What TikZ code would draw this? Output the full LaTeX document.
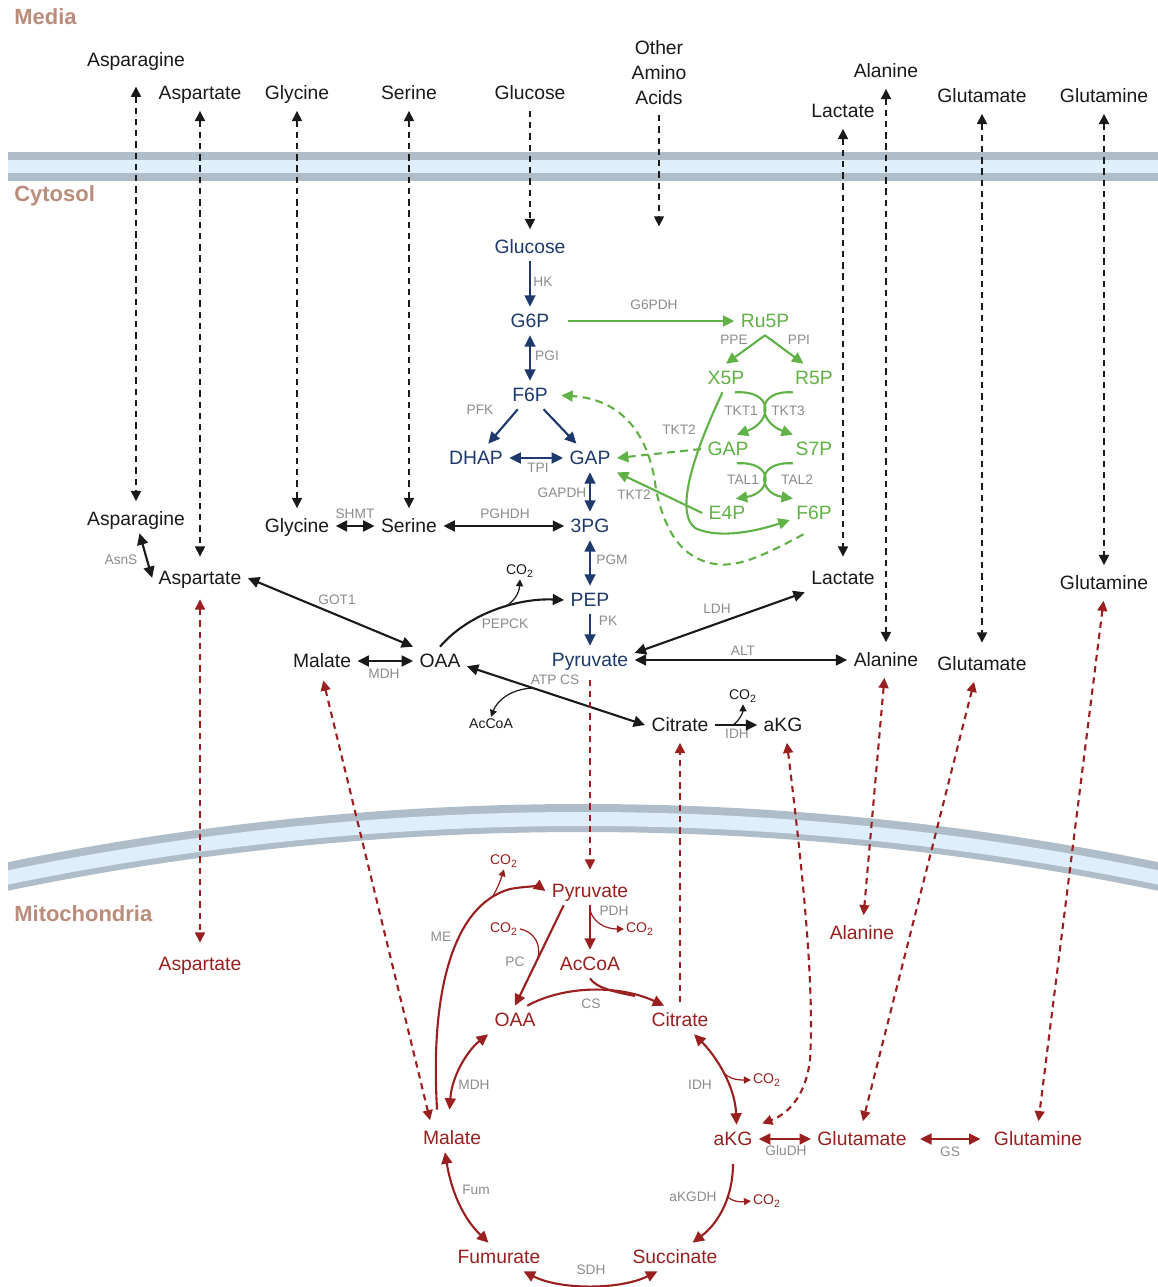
\documentclass[tikz,border=0pt]{standalone}
\usepackage{fontspec}
\setmainfont{Liberation Sans}
\usetikzlibrary{arrows.meta,positioning}

\definecolor{glyblue}{RGB}{30,58,108}
\definecolor{pppgreen}{RGB}{96,178,70}
\definecolor{mitored}{RGB}{154,31,31}
\definecolor{enzgray}{RGB}{140,140,140}
\definecolor{metblack}{RGB}{26,26,26}
\definecolor{compbrown}{RGB}{186,140,123}
\definecolor{memgray}{RGB}{175,189,201}
\definecolor{memblue}{RGB}{222,238,252}

\begin{document}
\begin{tikzpicture}[
    x=0.02cm, y=-0.02cm,
    >={Triangle[length=6.5pt,width=6.2pt]},
    met/.style={inner sep=3.5pt, text height=7.9pt, text depth=1pt, font=\fontsize{11}{13}\selectfont},
    cyto/.style={met, text=metblack},
    glyc/.style={met, text=glyblue},
    ppp/.style={met, text=pppgreen},
    mito/.style={met, text=mitored},
    enz/.style={inner sep=0pt, font=\fontsize{7.8}{9}\selectfont, text=enzgray},
    co2/.style={inner sep=1pt, font=\fontsize{8}{9}\selectfont},
    comp/.style={anchor=west, inner sep=0pt, text height=9pt, text depth=0pt, font=\fontsize{12.5}{15}\selectfont\bfseries, text=compbrown},
    line/.style={draw, ->, line width=1.2pt},
    rev/.style={line, <->},
    branch/.style={draw, ->, line width=0.7pt, >={Triangle[length=4pt,width=4pt]}},
    trans/.style={draw, line width=1.2pt, dash pattern=on 3.6pt off 2.8pt, shorten <=2pt, shorten >=2pt, >={Triangle[length=5.8pt,width=5.6pt]}},
    pppdash/.style={line, pppgreen, dash pattern=on 4.5pt off 3pt}
]
    % Background and membranes
    \fill[white] (0,0) rectangle (1158,1287);
    \useasboundingbox (0,0) rectangle (1158,1287);
    \fill[memgray] (8,152) rectangle (1158,181);
    \fill[memblue] (8,160) rectangle (1158,173);
    \begin{scope}
        \clip (8,760) rectangle (1158,960);
        \draw[memgray, line width=0.56cm] (583,3649) circle [radius=2831];
        \draw[memblue, line width=0.28cm] (583,3649) circle [radius=2830];
    \end{scope}

    % Compartments
    \node[comp] (media) at (14,17) {Media};
    \node[comp] (cytosol) at (14,194) {Cytosol};
    \node[comp] (mitoch) at (14,914) {Mitochondria};

    % Media
    \node[cyto] (m-asn) at (136,60) {Asparagine};
    \node[cyto] (m-asp) at (200,93) {Aspartate};
    \node[cyto] (m-gly) at (297,93) {Glycine};
    \node[cyto] (m-ser) at (409,93) {Serine};
    \node[cyto] (m-glc) at (530,93) {Glucose};
    \node[inner sep=3.5pt, align=center, font=\fontsize{11}{14.2}\selectfont, text=metblack] (m-other) at (659,73) {Other\\Amino\\Acids};
    \node[cyto] (m-ala) at (886,71) {Alanine};
    \node[cyto] (m-lac) at (843,111) {Lactate};
    \node[cyto] (m-glu) at (982,96) {Glutamate};
    \node[cyto] (m-gln) at (1104,96) {Glutamine};
    \coordinate (other-end) at (659,230);

    % Cytosol
    \node[cyto] (c-asn) at (136,519) {Asparagine};
    \node[cyto] (c-asp) at (200,578) {Aspartate};
    \node[cyto] (c-gly) at (297,526) {Glycine};
    \node[cyto] (c-ser) at (409,526) {Serine};
    \node[cyto] (mal-c) at (322,661) {Malate};
    \node[cyto] (oaa-c) at (440,661) {OAA};
    \node[cyto] (cit-c) at (680,725) {Citrate};
    \node[cyto] (akg-c) at (783,725) {aKG};
    \node[cyto] (c-lac) at (843,578) {Lactate};
    \node[cyto] (ala-c) at (886,660) {Alanine};
    \node[cyto] (glu-c) at (982,664) {Glutamate};
    \node[cyto] (gln-c) at (1104,583) {Glutamine};
    \node[co2, text=metblack] (accoa-c) at (491,724) {AcCoA};
    \node[co2, text=metblack] (co2-pepck) at (520,571) {CO\textsubscript{2}};
    \node[co2, text=metblack] (co2-idh) at (743,696) {CO\textsubscript{2}};

    % Glycolysis
    \node[glyc] (glc) at (530,247) {Glucose};
    \node[glyc] (g6p) at (530,321) {G6P};
    \node[glyc] (f6p) at (530,395) {F6P};
    \node[glyc] (dhap) at (476,458) {DHAP};
    \node[glyc] (gap) at (590,458) {GAP};
    \node[glyc] (pg3) at (590,526) {3PG};
    \node[glyc] (pep) at (590,600) {PEP};
    \node[glyc] (pyr-c) at (590,660) {Pyruvate};

    % Pentose phosphate
    \node[ppp] (ru5p) at (765,321) {Ru5P};
    \node[ppp] (x5p) at (726,378) {X5P};
    \node[ppp] (r5p) at (814,378) {R5P};
    \node[ppp] (gapg) at (728,449) {GAP};
    \node[ppp] (s7p) at (814,449) {S7P};
    \node[ppp] (e4p) at (727,513) {E4P};
    \node[ppp] (f6pg) at (814,513) {F6P};

    % Mitochondria
    \node[mito] (aspm) at (200,964) {Aspartate};
    \node[mito] (pyrm) at (590,891) {Pyruvate};
    \node[mito] (accoam) at (590,964) {AcCoA};
    \node[mito] (oaam) at (515,1020) {OAA};
    \node[mito] (citm) at (680,1020) {Citrate};
    \node[mito] (alam) at (862,933) {Alanine};
    \node[mito] (malm) at (452,1138) {Malate};
    \node[mito] (akgm) at (733,1139) {aKG};
    \node[mito] (glum) at (862,1139) {Glutamate};
    \node[mito] (glnm) at (1038,1139) {Glutamine};
    \node[mito] (fum) at (499,1257) {Fumurate};
    \node[mito] (succ) at (675,1257) {Succinate};
    \node[co2, text=mitored] (co2-me) at (504,861) {CO\textsubscript{2}};
    \node[co2, text=mitored] (co2-pc) at (504,929) {CO\textsubscript{2}};
    \node[co2, text=mitored] (co2-pdh) at (640,929) {CO\textsubscript{2}};
    \node[co2, text=mitored] (co2-idhm) at (767,1080) {CO\textsubscript{2}};
    \node[co2, text=mitored] (co2-kgdh) at (767,1201) {CO\textsubscript{2}};

    % Enzymes
    \node[enz] at (543,282) {HK};
    \node[enz] at (547,356) {PGI};
    \node[enz] at (480,410) {PFK};
    \node[enz] at (538,468) {TPI};
    \node[enz] at (562,493) {GAPDH};
    \node[enz] at (505,514) {PGHDH};
    \node[enz] at (355,514) {SHMT};
    \node[enz] at (612,560) {PGM};
    \node[enz] at (608,621) {PK};
    \node[enz] at (505,624) {PEPCK};
    \node[enz] at (337,600) {GOT1};
    \node[enz] at (121,560) {AsnS};
    \node[enz] at (384,674) {MDH};
    \node[enz] at (555,680) {ATP CS};
    \node[enz] at (717,609) {LDH};
    \node[enz] at (743,651) {ALT};
    \node[enz] at (737,734) {IDH};
    \node[enz] at (654,305) {G6PDH};
    \node[enz] at (734,340) {PPE};
    \node[enz] at (799,340) {PPI};
    \node[enz] at (741,411) {TKT1};
    \node[enz] at (788,411) {TKT3};
    \node[enz] at (679,430) {TKT2};
    \node[enz] at (743,480) {TAL1};
    \node[enz] at (797,480) {TAL2};
    \node[enz] at (634,495) {TKT2};
    \node[enz] at (441,937) {ME};
    \node[enz] at (614,911) {PDH};
    \node[enz] at (515,962) {PC};
    \node[enz] at (591,1004) {CS};
    \node[enz] at (474,1085) {MDH};
    \node[enz] at (700,1085) {IDH};
    \node[enz] at (786,1151) {GluDH};
    \node[enz] at (950,1152) {GS};
    \node[enz] at (476,1190) {Fum};
    \node[enz] at (693,1197) {aKGDH};
    \node[enz] at (591,1270) {SDH};

    % Transport media <-> cytosol
    \path[trans, <->, metblack, shorten <=7pt] (m-asn) -- (c-asn);
    \path[trans, <->, metblack, shorten >=4pt] (m-asp) -- (c-asp);
    \path[trans, <->, metblack] (m-gly) -- (c-gly);
    \path[trans, <->, metblack] (m-ser) -- (c-ser);
    \path[trans, ->, metblack] (m-glc) -- (glc);
    \path[trans, ->, metblack] (m-other) -- (other-end);
    \path[trans, <->, metblack, shorten >=4pt] (m-lac) -- (c-lac);
    \path[trans, <->, metblack] (m-ala) -- (ala-c);
    \path[trans, <->, metblack, shorten >=4pt] (m-glu) -- (glu-c);
    \path[trans, <->, metblack] (m-gln) -- (gln-c);

    % Glycolysis
    \path[line, glyblue] (glc) -- (g6p);
    \path[rev, glyblue] (g6p) -- (f6p);
    \path[line, glyblue] (f6p) -- (dhap);
    \path[line, glyblue] (f6p) -- (gap);
    \path[rev, glyblue] (dhap) -- (gap);
    \path[rev, glyblue] (gap) -- (pg3);
    \path[rev, glyblue] (pg3) -- (pep);
    \path[line, glyblue] (pep) -- (pyr-c);

    % Cytosol reactions
    \path[rev, metblack] (c-gly) -- (c-ser);
    \path[rev, metblack] (c-ser) -- (pg3);
    \path[rev, metblack] ([xshift=2pt]c-asn.south) -- (c-asp.west);
    \path[rev, metblack] (c-asp.east) -- (oaa-c.north west);
    \path[rev, metblack] (mal-c) -- (oaa-c);
    \path[line, metblack] (oaa-c.north) .. controls (470,612) and (520,598) .. (pep.west);
    \coordinate (pepck-br) at (505,607);
    \path[branch, metblack] (pepck-br) .. controls (514,601) and (519,594) .. (co2-pepck.south);
    \path[rev, metblack] ([yshift=-3pt]oaa-c.east) -- (cit-c.west);
    \coordinate (atpcs-br) at (533,688);
    \path[branch, metblack] (atpcs-br) .. controls (510,689) and (497,701) .. (accoa-c.north);
    \path[line, metblack] (cit-c) -- (akg-c);
    \coordinate (idh-br) at (733,725);
    \path[branch, metblack] (idh-br) .. controls (740,720) and (743,712) .. (co2-idh.south);
    \path[rev, metblack] ([yshift=4pt]pyr-c.east) -- (c-lac.south west);
    \path[rev, metblack] (pyr-c) -- (ala-c);

    % Pentose phosphate pathway
    \path[line, pppgreen, shorten <=7pt] (g6p) -- (ru5p);
    \path[line, pppgreen] (ru5p.south) -- (x5p.north);
    \path[line, pppgreen] (ru5p.south) -- ([xshift=-6pt]r5p.north);
    \path[line, pppgreen] ([xshift=5pt]x5p.south) .. controls (775,390) and (772,422) .. ([xshift=5pt]gapg.north);
    \path[line, pppgreen] ([xshift=-12pt]r5p.south) .. controls (755,390) and (758,422) .. ([xshift=-12pt]s7p.north);
    \path[line, pppgreen] ([xshift=5pt]gapg.south) .. controls (775,461) and (772,493) .. ([xshift=5pt]e4p.north);
    \path[line, pppgreen] ([xshift=-12pt]s7p.south) .. controls (755,461) and (758,493) .. ([xshift=-12pt]f6pg.north);
    \path[line, pppgreen] ([xshift=-2pt]x5p.south) .. controls (700,440) and (672,510) .. (695,528) .. controls (720,540) and (760,530) .. ([yshift=-4pt]f6pg.west);
    \path[pppdash] (gapg.west) -- (gap.east);
    \path[line, pppgreen] (e4p.west) -- (gap.south east);
    \path[pppdash, shorten >=4pt] ([xshift=-6pt,yshift=-4pt]f6pg.south) .. controls (770,552) and (740,568) .. (715,564) .. controls (680,558) and (665,530) .. (656,490) .. controls (650,435) and (622,399) .. (f6p.east);

    % Transport cytosol <-> mitochondria
    \path[trans, <->, mitored, shorten <=4pt, shorten >=4pt] (c-asp) -- (aspm);
    \path[trans, <->, mitored, shorten <=3pt] (mal-c.south) -- ([xshift=-12pt]malm.north);
    \path[trans, ->, mitored, shorten <=3pt, shorten >=4pt] (pyr-c) -- (pyrm);
    \path[trans, ->, mitored] (citm) -- (cit-c);
    \path[trans, <->, mitored] ([xshift=2pt]akg-c.south) .. controls (800,850) and (815,980) .. (810,1060) .. controls (805,1100) and (785,1115) .. (akgm.north east);
    \path[trans, <->, mitored] (ala-c) -- (alam);
    \path[trans, <->, mitored] ([xshift=-4pt]glu-c.south) -- (glum.north);
    \path[trans, <->, mitored] (gln-c.south) -- (glnm.north);

    % TCA cycle
    \path[line, mitored, shorten <=8pt] ([xshift=-8pt]malm.north) .. controls (430,995) and (452,905) .. (510,889) .. controls (525,886) and (540,887) .. (pyrm.west);
    \coordinate (me-br) at (493,896);
    \path[branch, mitored] (me-br) .. controls (497,889) and (500,882) .. (co2-me.south);
    \path[line, mitored] (pyrm) -- (accoam);
    \coordinate (pdh-br) at (590,910);
    \path[branch, mitored] (pdh-br) .. controls (593,922) and (605,929) .. (co2-pdh.west);
    \path[line, mitored] ([xshift=-15pt]pyrm.south) -- (oaam.north);
    \coordinate (pc-br) at (538,958);
    \path[draw, mitored, line width=0.7pt] (co2-pc.east) .. controls (535,932) and (541,945) .. (pc-br);
    \path[line, mitored] ([xshift=7pt]oaam.north) .. controls (565,985) and (620,985) .. ([xshift=-9pt]citm.north);
    \coordinate (cs-merge) at (635,996);
    \path[draw, mitored, line width=1.2pt] (accoam.south) .. controls (596,988) and (615,992) .. (cs-merge);
    \path[rev, mitored] ([xshift=8pt]citm.south) .. controls (715,1055) and (735,1085) .. ([xshift=2pt]akgm.north);
    \coordinate (idhm-br) at (723,1072);
    \path[branch, mitored] (idhm-br) .. controls (728,1078) and (735,1080) .. (co2-idhm.west);
    \path[line, mitored, shorten <=6pt] (akgm.south) .. controls (733,1195) and (720,1222) .. ([xshift=10pt]succ.north);
    \coordinate (kgdh-br) at (727,1196);
    \path[branch, mitored] (kgdh-br) .. controls (732,1202) and (740,1202) .. (co2-kgdh.west);
    \path[rev, mitored] ([xshift=14pt]fum.south) .. controls (560,1290) and (620,1290) .. ([xshift=-10pt]succ.south);
    \path[rev, mitored] ([xshift=-4pt]malm.south) .. controls (452,1195) and (465,1220) .. ([xshift=-6pt]fum.north);
    \path[rev, mitored, shorten <=8pt] ([xshift=-2pt]malm.north) .. controls (452,1075) and (468,1050) .. (oaam.south west);
    \path[rev, mitored] (akgm) -- (glum);
    \path[rev, mitored, shorten <=4pt, shorten >=4pt] (glum) -- (glnm);

\end{tikzpicture}
\end{document}
